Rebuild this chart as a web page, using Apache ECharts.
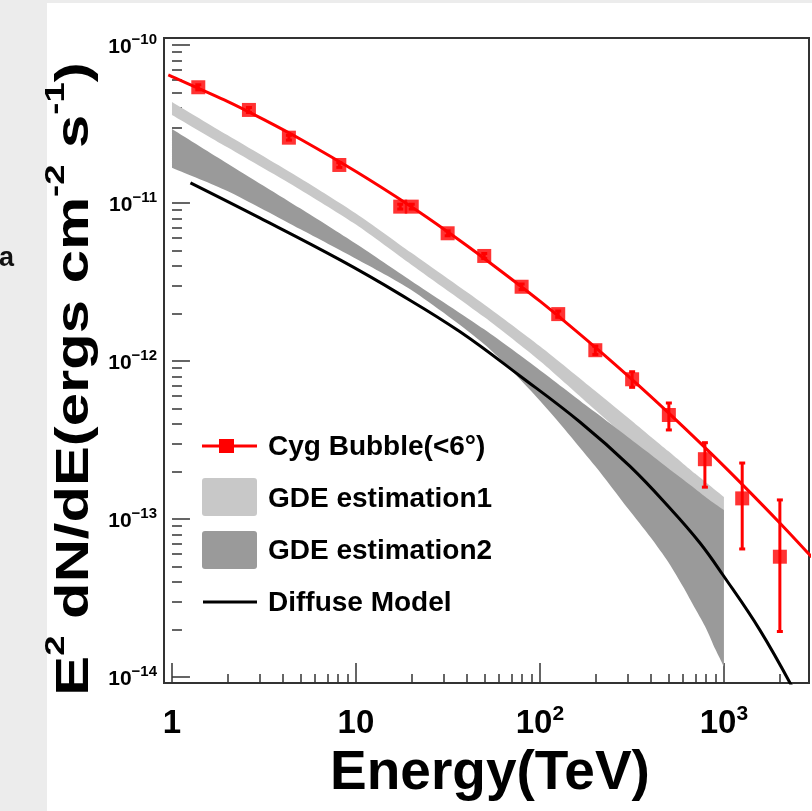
<!DOCTYPE html>
<html><head><meta charset="utf-8">
<script src="https://cdn.jsdelivr.net/npm/echarts@6/dist/echarts.min.js"></script>
<style>html,body{margin:0;padding:0;background:#fff}#c{width:812px;height:811px}</style>
</head><body><div id="c"></div>
<script>
// ---- axis ranges (data units) ----
const xRange = [0.905, 2900];
const yRange = [9.16e-15, 1.107e-10];
const xMajorTicks = [1, 10, 100, 1000];
const yMajorTicks = [1e-14, 1e-13, 1e-12, 1e-11, 1e-10];

// ---- Cyg Bubble (<6 deg) data points ----
const energy   = [1.39, 2.62, 4.32, 8.12, 17.4, 20.1, 31.5, 49.8, 79.5, 125.7, 200, 317, 502, 788, 1257, 2014];
const flux     = [5.40e-11, 3.88e-11, 2.59e-11, 1.74e-11, 9.48e-12, 9.48e-12, 6.43e-12, 4.62e-12, 2.95e-12, 1.98e-12, 1.17e-12, 7.66e-13, 4.55e-13, 2.39e-13, 1.35e-13, 5.77e-14];
const fluxLow  = [5.20e-11, 3.74e-11, 2.50e-11, 1.68e-11, 9.15e-12, 9.15e-12, 6.20e-12, 4.45e-12, 2.83e-12, 1.89e-12, 1.10e-12, 6.81e-13, 3.66e-13, 1.59e-13, 6.46e-14, 1.94e-14];
const fluxHigh = [5.60e-11, 4.02e-11, 2.68e-11, 1.80e-11, 9.82e-12, 9.82e-12, 6.66e-12, 4.79e-12, 3.07e-12, 2.07e-12, 1.24e-12, 8.55e-13, 5.42e-13, 3.04e-13, 2.26e-13, 1.32e-13];

// ---- fitted spectrum (red curve) ----
const fitE = [0.955, 1, 2, 3.16, 5, 10, 20, 31.6, 50, 100, 200, 316, 500, 1000, 2000, 3000];
const fitV = [6.46e-11, 6.31e-11, 4.40e-11, 3.37e-11, 2.53e-11, 1.58e-11, 9.46e-12, 6.55e-12, 4.44e-12, 2.39e-12, 1.22e-12, 7.65e-13, 4.69e-13, 2.16e-13, 9.51e-14, 5.74e-14];

// ---- GDE bands ----
const bandE = [1, 2, 5, 10, 20, 50, 100, 200, 300, 400, 500, 600, 700, 800, 900, 1000];
const gde1Upper = [4.36e-11, 2.69e-11, 1.43e-11, 8.59e-12, 4.84e-12, 2.27e-12, 1.24e-12, 6.46e-13, 4.39e-13, 3.32e-13, 2.68e-13, 2.24e-13, 1.93e-13, 1.70e-13, 1.52e-13, 1.38e-13];
const gde1Lower = [3.61e-11, 2.25e-11, 1.21e-11, 7.30e-12, 4.07e-12, 1.89e-12, 1.00e-12, 4.90e-13, 3.24e-13, 2.43e-13, 1.95e-13, 1.62e-13, 1.38e-13, 1.22e-13, 1.08e-13, 9.86e-14];
const gde2Upper = [2.94e-11, 1.78e-11, 9.22e-12, 5.52e-12, 3.21e-12, 1.58e-12, 8.75e-13, 4.73e-13, 3.30e-13, 2.56e-13, 2.09e-13, 1.78e-13, 1.55e-13, 1.37e-13, 1.24e-13, 1.14e-13];
const gde2Lower = [1.67e-11, 1.19e-11, 6.81e-12, 4.43e-12, 2.81e-12, 1.27e-12, 5.61e-13, 2.16e-13, 1.17e-13, 7.64e-14, 5.31e-14, 3.73e-14, 2.69e-14, 2.03e-14, 1.49e-14, 1.16e-14];

// ---- Diffuse model (black curve) ----
const diffE = [1.26, 3.0, 8.2, 17.3, 36.8, 77.9, 165, 308, 509, 741, 988, 1569, 2430];
const diffV = [1.34e-11, 8.04e-12, 4.36e-12, 2.65e-12, 1.53e-12, 8.04e-13, 4.11e-13, 2.16e-13, 1.17e-13, 7.05e-14, 4.42e-14, 1.98e-14, 8.04e-15];

// ---- legend ----
const legendNames = ['Cyg Bubble(<6\u00B0)', 'GDE estimation1', 'GDE estimation2', 'Diffuse Model'];

// ---- titles ----
const xTitle = 'Energy(TeV)';

const lg = Math.log10;
const FONT = '"Liberation Sans", Arial, Helvetica, sans-serif';
const RED = '#ff0000', LIGHT = '#c8c8c8', DARK = '#9a9a9a', AX = '#333333';

function minorTicks(lo, hi) {
  const out = [];
  for (let d = Math.floor(lg(lo)); d <= Math.ceil(lg(hi)); d++) {
    for (let k = 2; k <= 9; k++) {
      const v = k * Math.pow(10, d);
      if (v > lo && v < hi) out.push(lg(v));
    }
  }
  return out;
}

const chart = echarts.init(document.getElementById('c'), null, {renderer: 'canvas'});

function bandSeries(name, upper, lower, color) {
  return {
    type: 'custom', name, xAxisIndex: 0, yAxisIndex: 0,
    data: bandE.map((e, i) => [lg(e), lg(upper[i]), lg(lower[i])]),
    renderItem: (params, api) => {
      if (params.dataIndexInside !== 0) return null;
      const n = bandE.length, top = [], bot = [];
      for (let i = 0; i < n; i++) {
        top.push(api.coord([api.value(0, i), api.value(1, i)]));
        bot.push(api.coord([api.value(0, i), api.value(2, i)]));
      }
      bot.reverse();
      // duplicate the four corners so the smoothed outline keeps sharp ends
      const pts = [top[0]].concat(top, [top[n - 1], bot[0]], bot, [bot[n - 1]]);
      return {type: 'polygon', shape: {points: pts, smooth: 0.25}, style: {fill: color}};
    },
    silent: true, z: 2
  };
}

const xRich = {
  b: {fontSize: 33, fontWeight: 'bold', fontFamily: FONT, color: '#000', padding: [3, 0, 0, 0], verticalAlign: 'bottom'},
  s: {fontSize: 21, fontWeight: 'bold', fontFamily: FONT, color: '#000', verticalAlign: 'top'}
};
const yRich = {
  b: {fontSize: 21, fontWeight: 'bold', fontFamily: FONT, color: '#000', padding: [4, 0, 0, 0], verticalAlign: 'bottom'},
  s: {fontSize: 15, fontWeight: 'bold', fontFamily: FONT, color: '#000', verticalAlign: 'top'}
};

const option = {
  animation: false,
  backgroundColor: '#ffffff',
  grid: {left: 164, top: 38, right: 3, bottom: 128, show: true, borderColor: AX, borderWidth: 2, backgroundColor: 'transparent', outerBoundsMode: 'none'},
  xAxis: [
    {type: 'value', min: lg(xRange[0]), max: lg(xRange[1]), position: 'bottom',
     axisLine: {show: false}, splitLine: {show: false},
     axisTick: {show: true, inside: true, length: 20, customValues: xMajorTicks.map(lg), lineStyle: {color: AX, width: 1.5}},
     axisLabel: {show: true, margin: 21, customValues: xMajorTicks.map(lg), rich: xRich,
       formatter: v => { const p = Math.round(v); return p === 0 ? '{b|1}' : p === 1 ? '{b|10}' : '{b|10}{s|' + p + '}'; }}},
    {type: 'value', min: lg(xRange[0]), max: lg(xRange[1]), position: 'bottom',
     axisLine: {show: false}, splitLine: {show: false}, axisLabel: {show: false},
     axisTick: {show: true, inside: true, length: 9, customValues: minorTicks(xRange[0], xRange[1]), lineStyle: {color: AX, width: 1.5}}}
  ],
  yAxis: [
    {type: 'value', min: lg(yRange[0]), max: lg(yRange[1]), position: 'left',
     axisLine: {show: false}, splitLine: {show: false},
     axisTick: {show: true, inside: true, length: 18, customValues: yMajorTicks.map(lg), lineStyle: {color: AX, width: 1.5}},
     axisLabel: {show: true, margin: 7, customValues: yMajorTicks.map(lg), rich: yRich,
       formatter: v => '{b|10}{s|\u2212' + Math.round(-v) + '}'}},
    {type: 'value', min: lg(yRange[0]), max: lg(yRange[1]), position: 'left',
     axisLine: {show: false}, splitLine: {show: false}, axisLabel: {show: false},
     axisTick: {show: true, inside: true, length: 10, customValues: minorTicks(yRange[0], yRange[1]), lineStyle: {color: AX, width: 1.5}}}
  ],
  series: [
    bandSeries(legendNames[1], gde1Upper, gde1Lower, LIGHT),
    bandSeries(legendNames[2], gde2Upper, gde2Lower, DARK),
    {type: 'line', name: legendNames[3], data: diffE.map((e, i) => [lg(e), lg(diffV[i])]),
     showSymbol: false, smooth: 0.4, clip: true, lineStyle: {color: '#000', width: 3}, silent: true, z: 3},
    {type: 'line', name: 'fit', data: fitE.map((e, i) => [lg(e), lg(fitV[i])]),
     showSymbol: false, smooth: 0.3, clip: true, lineStyle: {color: RED, width: 3}, silent: true, z: 4},
    {type: 'custom', name: 'errors', z: 5, silent: true,
     data: energy.map((e, i) => [lg(e), lg(fluxLow[i]), lg(fluxHigh[i])]),
     renderItem: (params, api) => {
       const lo = api.coord([api.value(0), api.value(1)]);
       const hi = api.coord([api.value(0), api.value(2)]);
       const st = {stroke: RED, lineWidth: 3};
       return {type: 'group', children: [
         {type: 'line', shape: {x1: lo[0], y1: lo[1], x2: hi[0], y2: hi[1]}, style: st},
         {type: 'line', shape: {x1: lo[0] - 3, y1: lo[1], x2: lo[0] + 3, y2: lo[1]}, style: st},
         {type: 'line', shape: {x1: hi[0] - 3, y1: hi[1], x2: hi[0] + 3, y2: hi[1]}, style: st}
       ]};
     }},
    {type: 'scatter', name: legendNames[0], data: energy.map((e, i) => [lg(e), lg(flux[i])]),
     symbol: 'rect', symbolSize: 14, itemStyle: {color: RED}, z: 6, silent: true}
  ],
  graphic: [
    {type: 'rect', shape: {x: 0, y: 0, width: 47, height: 811}, style: {fill: '#ececec'}, z: -10},
    {type: 'rect', shape: {x: 0, y: 0, width: 812, height: 3}, style: {fill: '#ececec'}, z: -10},
    {type: 'text', x: -1, y: 259, style: {text: 'a', font: 'bold 27px ' + FONT, fill: '#111', verticalAlign: 'middle'}},
    // legend
    {type: 'line', shape: {x1: 202, y1: 446, x2: 257, y2: 446}, style: {stroke: RED, lineWidth: 3}, z: 20},
    {type: 'rect', shape: {x: 219, y: 439, width: 15, height: 14}, style: {fill: RED}, z: 20},
    {type: 'rect', shape: {x: 202, y: 478, width: 55, height: 38, r: 3}, style: {fill: LIGHT}, z: 20},
    {type: 'rect', shape: {x: 202, y: 531, width: 55, height: 38, r: 3}, style: {fill: DARK}, z: 20},
    {type: 'line', shape: {x1: 203, y1: 602, x2: 257, y2: 602}, style: {stroke: '#000', lineWidth: 3}, z: 20},
    {type: 'text', x: 268, y: 447, style: {text: legendNames[0], font: 'bold 28px ' + FONT, fill: '#000', verticalAlign: 'middle'}, z: 20},
    {type: 'text', x: 268, y: 499, style: {text: legendNames[1], font: 'bold 28px ' + FONT, fill: '#000', verticalAlign: 'middle'}, z: 20},
    {type: 'text', x: 268, y: 551, style: {text: legendNames[2], font: 'bold 28px ' + FONT, fill: '#000', verticalAlign: 'middle'}, z: 20},
    {type: 'text', x: 268, y: 603, style: {text: legendNames[3], font: 'bold 28px ' + FONT, fill: '#000', verticalAlign: 'middle'}, z: 20},
    // axis titles
    {type: 'text', x: 490, y: 774, style: {text: xTitle, font: 'bold 55px ' + FONT, fill: '#000', align: 'center', verticalAlign: 'middle'}, z: 20},
    {type: 'text', x: 70, y: 379, rotation: Math.PI / 2, scaleX: 1.3,
     style: {text: '{b|E}{s|2}{b| dN/dE(ergs cm}{s|-2}{b| s}{s|-1}{b|)}', align: 'center', verticalAlign: 'middle',
       rich: {
         b: {fontSize: 46, fontWeight: 'bold', fontFamily: FONT, fill: '#000', padding: [10, 0, 0, 0], verticalAlign: 'bottom'},
         s: {fontSize: 28, fontWeight: 'bold', fontFamily: FONT, fill: '#000', verticalAlign: 'top'}
       }}, z: 20}
  ]
};
chart.setOption(option);
</script></body></html>
